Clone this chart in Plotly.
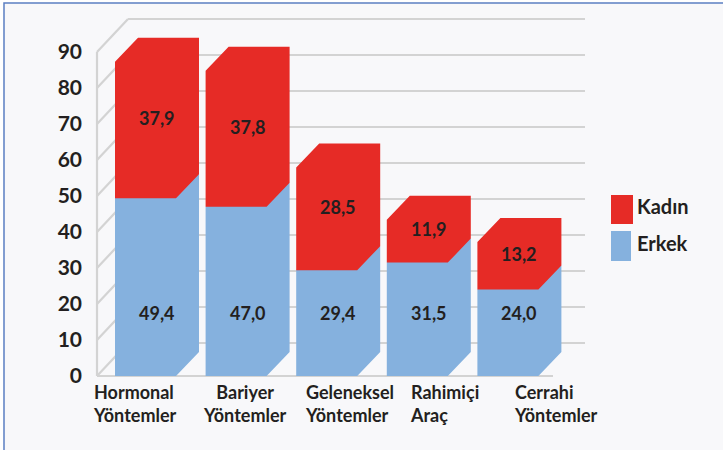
import plotly.graph_objects as go

# ---------------- data ----------------
categories = ["Hormonal<br>Yöntemler", "Bariyer<br>Yöntemler", "Geleneksel<br>Yöntemler",
              "Rahimiçi<br>Araç", "Cerrahi<br>Yöntemler"]
erkek = [49.4, 47.0, 29.4, 31.5, 24.0]
kadin = [37.9, 37.8, 28.5, 11.9, 13.2]
y_ticks = [0, 10, 20, 30, 40, 50, 60, 70, 80, 90]
series_names = ["Kadın", "Erkek"]

# ---------------- style / geometry ----------------
RED = "#e62b26"
BLUE = "#85b1de"
GRID = "#d3d3d3"
TEXT = "#231f20"
BG = "#f8f8fa"
BORDER = "#5b7fc2"
FONT = "Lato"

W, H = 723, 450
PL, PR, PT, PB = 90, 600, 10, 390          # plot area in px
Y0_PX, PXY = 376, 3.6                      # px of value 0, px per unit
X0_PX, PXX = 145.5, 90.6                   # px of first category, px per category


def ux(px):
    return px / PXX


def uy(px):
    return px / PXY


def xpx(px):
    return (px - X0_PX) / PXX


BAR_W = ux(61)
BAR_DX, BAR_DY = ux(23), uy(24)
WALL_DX, WALL_DY = ux(31), uy(33)
WALL_X = xpx(97)
FLOOR_END = xpx(553)
BACK_END = xpx(585)

xr = [xpx(PL), xpx(PR)]
yr = [(Y0_PX - PB) / PXY, (Y0_PX - PT) / PXY]


def paper_x(px):
    return (px - PL) / (PR - PL)


def paper_y(py):
    return (PB - py) / (PB - PT)


fig = go.Figure()

# ---- 3D frame (walls / gridlines) ----
gx, gy = [], []
ymax = y_ticks[-1]
for v in y_ticks:
    gx += [WALL_X, WALL_X + WALL_DX, None]
    gy += [v, v + WALL_DY, None]
    gx += [WALL_X + WALL_DX, BACK_END, None]
    gy += [v + WALL_DY, v + WALL_DY, None]
gx += [WALL_X, WALL_X, None]
gy += [0, ymax, None]
gx += [WALL_X, FLOOR_END, None]
gy += [0, 0, None]
fig.add_trace(go.Scatter(x=gx, y=gy, mode="lines", line=dict(color=GRID, width=2.2),
                         hoverinfo="skip", showlegend=False))


# ---- bars as pseudo-3D prisms ----
def prism_series(bases, tops):
    xs, ys = [], []
    for i, (b, t) in enumerate(zip(bases, tops)):
        x0, x1 = i - BAR_W / 2, i + BAR_W / 2
        xs += [x0, x1, x1 + BAR_DX, x1 + BAR_DX, x0 + BAR_DX, x0, x0, None]
        ys += [b, b, b + BAR_DY, t + BAR_DY, t + BAR_DY, t, b, None]
    return xs, ys


totals = [e + k for e, k in zip(erkek, kadin)]
bx, by = prism_series([0] * len(erkek), erkek)
fig.add_trace(go.Scatter(x=bx, y=by, fill="toself", fillcolor=BLUE, mode="lines",
                         line=dict(width=0, color=BLUE), name=series_names[1],
                         hoverinfo="skip", showlegend=False))
rx, ry = prism_series(erkek, totals)
fig.add_trace(go.Scatter(x=rx, y=ry, fill="toself", fillcolor=RED, mode="lines",
                         line=dict(width=0, color=RED), name=series_names[0],
                         hoverinfo="skip", showlegend=False))


def fmt(v):
    return f"{v:.1f}".replace(".", ",")


LABEL_FONT = dict(family=FONT, size=18, color=TEXT, weight="bold")
annotations = []
ERKEK_LABEL_LEVEL = 17.5
for i, (e, k) in enumerate(zip(erkek, kadin)):
    annotations.append(dict(x=i + BAR_DX / 2, y=ERKEK_LABEL_LEVEL, text=fmt(e), showarrow=False,
                            font=LABEL_FONT, xanchor="center", yanchor="middle"))
    annotations.append(dict(x=i + BAR_DX / 2, y=e + k / 2 + BAR_DY / 2, text=fmt(k),
                            showarrow=False, font=LABEL_FONT, xanchor="center", yanchor="middle"))

# category labels
cat_shift = [-11, 9, 23, 27, 48]
cat_align = ["left", "center", "left", "left", "left"]
for i, c in enumerate(categories):
    annotations.append(dict(x=i, xref="x", y=paper_y(403), yref="paper", text=c, showarrow=False,
                            xshift=cat_shift[i], align=cat_align[i],
                            font=dict(family=FONT, size=18, color=TEXT, weight="bold"),
                            xanchor="center", yanchor="middle"))

# custom legend
shapes = [
    dict(type="rect", xref="paper", yref="paper", x0=paper_x(4), x1=paper_x(W + 20),
         y0=paper_y(3), y1=paper_y(H + 20), fillcolor=BG, line=dict(color=BORDER, width=1.5),
         layer="below"),
    dict(type="rect", xref="paper", yref="paper", x0=paper_x(611), x1=paper_x(633),
         y0=paper_y(195), y1=paper_y(224), fillcolor=RED, line=dict(width=0)),
    dict(type="rect", xref="paper", yref="paper", x0=paper_x(611), x1=paper_x(631),
         y0=paper_y(231), y1=paper_y(261), fillcolor=BLUE, line=dict(width=0)),
]
LEG_FONT = dict(family=FONT, size=20, color=TEXT, weight="bold")
annotations.append(dict(x=paper_x(635), y=paper_y(206), xref="paper", yref="paper",
                        text=series_names[0], showarrow=False, xanchor="left", yanchor="middle",
                        font=LEG_FONT))
annotations.append(dict(x=paper_x(635), y=paper_y(243), xref="paper", yref="paper",
                        text=series_names[1], showarrow=False, xanchor="left", yanchor="middle",
                        font=LEG_FONT))

fig.update_layout(
    width=W, height=H,
    margin=dict(l=PL, r=W - PR, t=PT, b=H - PB, pad=0),
    paper_bgcolor="white",
    plot_bgcolor="rgba(0,0,0,0)",
    font=dict(family=FONT, color=TEXT),
    showlegend=False,
    xaxis=dict(range=xr, showgrid=False, zeroline=False, showline=False,
               showticklabels=False, ticks="", fixedrange=True),
    yaxis=dict(range=yr, tickvals=y_ticks, ticktext=[str(v) for v in y_ticks],
               showgrid=False, zeroline=False, showline=False, ticks="",
               ticklabelstandoff=7,
               tickfont=dict(family=FONT, size=21, color=TEXT, weight="bold"), fixedrange=True),
    shapes=shapes,
    annotations=annotations,
)

fig.write_html("out.html", config={"displayModeBar": False},
               post_script="document.body.style.margin='0px';document.body.style.padding='0px';")
